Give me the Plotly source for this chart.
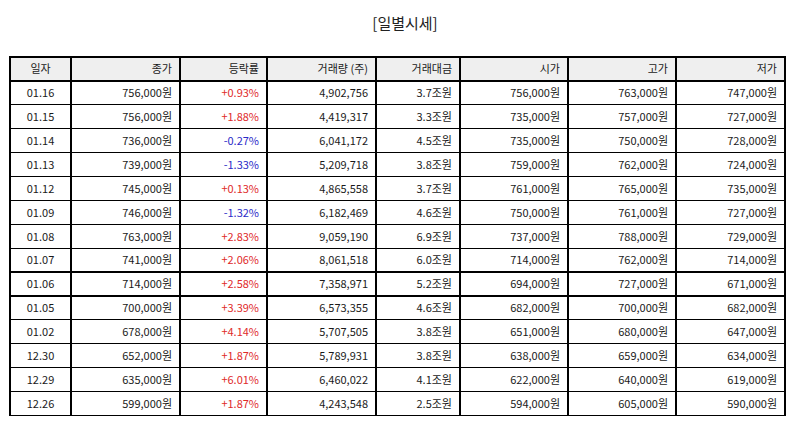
import plotly.graph_objects as go

dates = ["01.16", "01.15", "01.14", "01.13", "01.12", "01.09", "01.08", "01.07",
         "01.06", "01.05", "01.02", "12.30", "12.29", "12.26"]
close = [756000, 756000, 736000, 739000, 745000, 746000, 763000, 741000,
         714000, 700000, 678000, 652000, 635000, 599000]
change_pct = [0.93, 1.88, -0.27, -1.33, 0.13, -1.32, 2.83, 2.06,
              2.58, 3.39, 4.14, 1.87, 6.01, 1.87]
volume = [4902756, 4419317, 6041172, 5209718, 4865558, 6182469, 9059190, 8061518,
          7358971, 6573355, 5707505, 5789931, 6460022, 4243548]
amount_jo = [3.7, 3.3, 4.5, 3.8, 3.7, 4.6, 6.9, 6.0, 5.2, 4.6, 3.8, 3.8, 4.1, 2.5]
open_px = [756000, 735000, 735000, 759000, 761000, 750000, 737000, 714000,
           694000, 682000, 651000, 638000, 622000, 594000]
high_px = [763000, 757000, 750000, 762000, 765000, 761000, 788000, 762000,
           727000, 700000, 680000, 659000, 640000, 605000]
low_px = [747000, 727000, 728000, 724000, 735000, 727000, 729000, 714000,
          671000, 682000, 647000, 634000, 619000, 590000]
headers = ["일자", "종가", "등락률", "거래량 (주)", "거래대금", "시가", "고가", "저가"]

won = lambda v: f"{v:,}원"
cols = [
    dates,
    [won(v) for v in close],
    [f"{v:+.2f}%" for v in change_pct],
    [f"{v:,}" for v in volume],
    [f"{v:.1f}조원" for v in amount_jo],
    [won(v) for v in open_px],
    [won(v) for v in high_px],
    [won(v) for v in low_px],
]

RED = "#e02a2a"
BLUE = "#2b2bc8"
TXT = "#1a1a1a"
chg_colors = [RED if v > 0 else BLUE for v in change_pct]
n = len(dates)
font_colors = [[TXT] * n, [TXT] * n, chg_colors] + [[TXT] * n] * 5

W, H = 794, 425
OFF = 8  # plotly table draws offset by this many px
x0, x1 = 10 - OFF, 785 - OFF
y_top = 57 - OFF
y_bot = 421 - OFF

fig = go.Figure(go.Table(
    columnwidth=[61, 109, 87, 109, 84, 108, 108, 109],
    header=dict(
        values=headers,
        align=["center"] + ["right"] * 7,
        fill_color="#efefef",
        line=dict(color="black", width=1.2),
        font=dict(family="Noto Sans CJK KR", size=11, color=TXT),
        height=23.9,
    ),
    cells=dict(
        values=cols,
        align=["center"] + ["right"] * 7,
        fill_color="white",
        line=dict(color="black", width=1.2),
        font=dict(family="Noto Sans CJK KR", size=11, color=font_colors),
        height=23.9,
    ),
    domain=dict(x=[x0 / W, x1 / W], y=[1 - y_bot / H, 1 - y_top / H]),
))

fig.update_layout(
    width=W, height=H,
    margin=dict(l=0, r=0, t=0, b=0),
    paper_bgcolor="white",
    title=dict(text="[일별시세]", x=0.5, xanchor="center", y=1 - 16 / H, yanchor="middle",
               font=dict(family="Noto Sans CJK KR", size=15, color="#222222")),
    font=dict(family="Noto Sans CJK KR"),
)

fig.write_html("out.html")
